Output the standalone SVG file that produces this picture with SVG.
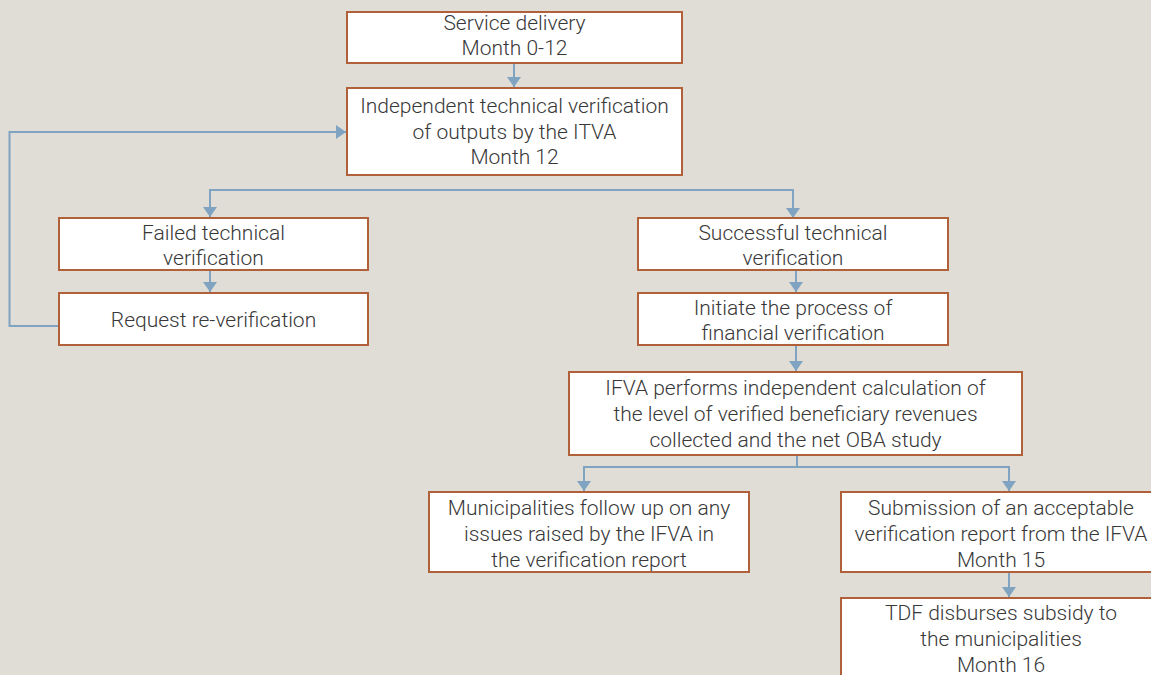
<svg xmlns="http://www.w3.org/2000/svg" width="1151" height="675" viewBox="0 0 1151 675">
  <style>
    .box { fill: #ffffff; stroke: #b0613a; stroke-width: 2; }
    .lbl { font-family: Roboto, "Liberation Sans", sans-serif; font-weight: 300; font-size: 21px; fill: #383838; text-anchor: middle; }
    .conn { fill: none; stroke: #7fa3c1; stroke-width: 2; }
  </style>
  <defs>
    <marker id="arrow" markerUnits="userSpaceOnUse" markerWidth="16" markerHeight="16" refX="10" refY="7" orient="auto">
      <path d="M0,0 L10,7 L0,14 Z" fill="#7fa3c1"/>
    </marker>
  </defs>
  <rect width="1151" height="675" fill="#e0ddd6"/>

  <g id="connectors">
    <path class="conn" d="M514,63 V87" marker-end="url(#arrow)"/>
    <path class="conn" d="M210,218 V190 H793 V218" marker-end="url(#arrow)"/>
    <path class="conn" d="M210,190 V217" marker-end="url(#arrow)"/>
    <path class="conn" d="M210,270 V292" marker-end="url(#arrow)"/>
    <path class="conn" d="M59,326 H9.5 V132 H346" marker-end="url(#arrow)"/>
    <path class="conn" d="M796,270 V292" marker-end="url(#arrow)"/>
    <path class="conn" d="M796,345 V371" marker-end="url(#arrow)"/>
    <path class="conn" d="M797,455 V467 H1009 V491" marker-end="url(#arrow)"/>
    <path class="conn" d="M797,467 H584 V491" marker-end="url(#arrow)"/>
    <path class="conn" d="M1009,572 V597" marker-end="url(#arrow)"/>
  </g>

  <g id="service-delivery">
    <rect class="box" x="347" y="12" width="335" height="51"/>
    <text class="lbl" x="514.5" y="30">Service delivery</text>
    <text class="lbl" x="514.5" y="55">Month 0-12</text>
  </g>

  <g id="technical-verification">
    <rect class="box" x="347" y="88" width="335" height="87"/>
    <text class="lbl" x="514.5" y="113">Independent technical verification</text>
    <text class="lbl" x="514.5" y="138.5">of outputs by the ITVA</text>
    <text class="lbl" x="514.5" y="164">Month 12</text>
  </g>

  <g id="failed-verification">
    <rect class="box" x="59" y="218" width="309" height="52"/>
    <text class="lbl" x="213.5" y="240">Failed technical</text>
    <text class="lbl" x="213.5" y="265">verification</text>
  </g>

  <g id="request-reverification">
    <rect class="box" x="59" y="293" width="309" height="52"/>
    <text class="lbl" x="213.5" y="327">Request re-verification</text>
  </g>

  <g id="successful-verification">
    <rect class="box" x="638" y="218" width="310" height="52"/>
    <text class="lbl" x="793" y="240">Successful technical</text>
    <text class="lbl" x="793" y="265">verification</text>
  </g>

  <g id="financial-verification">
    <rect class="box" x="638" y="293" width="310" height="52"/>
    <text class="lbl" x="793" y="315">Initiate the process of</text>
    <text class="lbl" x="793" y="340">financial verification</text>
  </g>

  <g id="ifva-calculation">
    <rect class="box" x="569" y="372" width="453" height="83"/>
    <text class="lbl" x="795.5" y="395">IFVA performs independent calculation of</text>
    <text class="lbl" x="795.5" y="421">the level of verified beneficiary revenues</text>
    <text class="lbl" x="795.5" y="446.5">collected and the net OBA study</text>
  </g>

  <g id="municipalities-follow-up">
    <rect class="box" x="429" y="492" width="320" height="80"/>
    <text class="lbl" x="589" y="515">Municipalities follow up on any</text>
    <text class="lbl" x="589" y="541">issues raised by the IFVA in</text>
    <text class="lbl" x="589" y="566.5">the verification report</text>
  </g>

  <g id="report-submission">
    <rect class="box" x="841" y="492" width="320" height="80"/>
    <text class="lbl" x="1001" y="515">Submission of an acceptable</text>
    <text class="lbl" x="1001" y="541">verification report from the IFVA</text>
    <text class="lbl" x="1001" y="566.5">Month 15</text>
  </g>

  <g id="subsidy-disbursement">
    <rect class="box" x="841" y="598" width="320" height="90"/>
    <text class="lbl" x="1001" y="620">TDF disburses subsidy to</text>
    <text class="lbl" x="1001" y="646">the municipalities</text>
    <text class="lbl" x="1001" y="672">Month 16</text>
  </g>
</svg>
